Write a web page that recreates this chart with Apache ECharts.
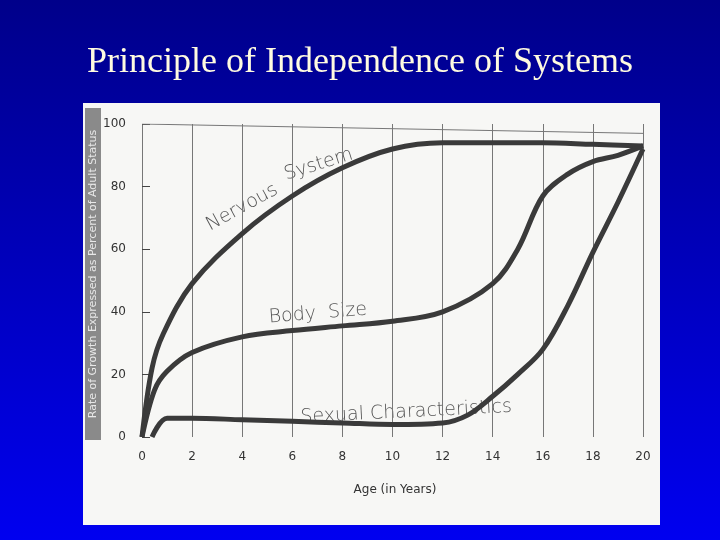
<!DOCTYPE html>
<html>
<head>
<meta charset="utf-8">
<script src="https://cdn.jsdelivr.net/npm/echarts@6/dist/echarts.min.js"></script>
<style>html,body{margin:0;padding:0;}#main{width:720px;height:540px;}</style>
</head>
<body>
<div id="main"></div>
<script>
// 年龄 (x) 与三条曲线
const nervous = [[0,0],[0.4,22],[0.85,33],[2,49],[4,65],[6,77],[8,86],[10,92],[12,94],[14,94],[16,94],[18,93.5],[20,93]];
const body = [[0,0],[0.5,15],[1,21],[2,27],[4,32],[6,34],[8,35.5],[10,37],[12,40],[14,49],[15,60],[16,77],[17,84],[18,88],[19,90],[20,93]];
const sexual = [[0.4,0],[1,6],[2,6],[4,5.5],[6,5],[8,4.5],[10,4],[12,4.5],[13,7],[14,13],[15,20],[16,28],[17,42],[18,59],[19,75],[20,92]];
const xTicks = [0,2,4,6,8,10,12,14,16,18,20];

var myChart = echarts.init(document.getElementById('main'));
function line(name, data){
    return {name:name, type:'line', smooth:0.35, symbol:'none', data:data,
        lineStyle:{color:'#3a3a3a', width:5}, z:5};
}
const hand = {fill:'#555', fontFamily:'DejaVu Sans', fontSize:19, fontWeight:'lighter'};
var option = {
    backgroundColor:{type:'linear',x:0,y:0,x2:0,y2:1,colorStops:[{offset:0,color:'#00008a'},{offset:1,color:'#0000f0'}]},
    title:{text:'Principle of Independence of Systems', left:'center', top:40,
        textStyle:{color:'#fffbe0', fontFamily:'Liberation Serif', fontWeight:'normal', fontSize:36}},
    graphic:[
        {type:'rect', shape:{x:83,y:103,width:577,height:422}, style:{fill:'#f7f7f5'}, z:-10},
        {type:'rect', shape:{x:85,y:108,width:16,height:332}, style:{fill:'#8a8a8a'}, z:-9},
        {type:'text', x:93, y:274, rotation:Math.PI/2, style:{text:'Rate of Growth Expressed as Percent of Adult Status', fill:'#e8e8e8', fontSize:11, fontFamily:'DejaVu Sans', align:'center', verticalAlign:'middle'}},
        {type:'text', x:203, y:218, rotation:0.5, style:Object.assign({text:'Nervous'},hand)},
        {type:'text', x:282, y:166, rotation:0.3, style:Object.assign({text:'System'},hand)},
        {type:'text', x:268, y:308, rotation:0.08, style:Object.assign({text:'Body  Size'},hand)},
        {type:'text', x:300, y:408, rotation:0.05, style:Object.assign({text:'Sexual Characteristics'},hand)},
        {type:'text', x:395, y:484, style:{text:'Age (in Years)', fill:'#333', fontSize:12, fontFamily:'DejaVu Sans', align:'center'}}
    ],
    grid:{left:142, right:77, top:124, bottom:103},
    xAxis:{type:'value', min:0, max:20, interval:2,
        axisLine:{show:false}, axisTick:{show:false},
        axisLabel:{color:'#333', fontSize:12, margin:14, fontFamily:'DejaVu Sans',
            customValues:xTicks},
        splitLine:{show:true, lineStyle:{color:'#777', width:1}}},
    yAxis:{type:'value', min:0, max:100, interval:20,
        axisLine:{show:false}, axisTick:{show:true, inside:true, length:8, lineStyle:{color:'#444'}},
        axisLabel:{color:'#333', fontSize:12, margin:16, fontFamily:'DejaVu Sans'},
        splitLine:{show:false}},
    series:[line('Nervous System',nervous), line('Body Size',body), line('Sexual Characteristics',sexual),
        {type:'line', symbol:'none', silent:true, data:[[0,100],[20,97]], lineStyle:{color:'#777',width:1}}]
};
myChart.setOption(option);
</script>
</body>
</html>
